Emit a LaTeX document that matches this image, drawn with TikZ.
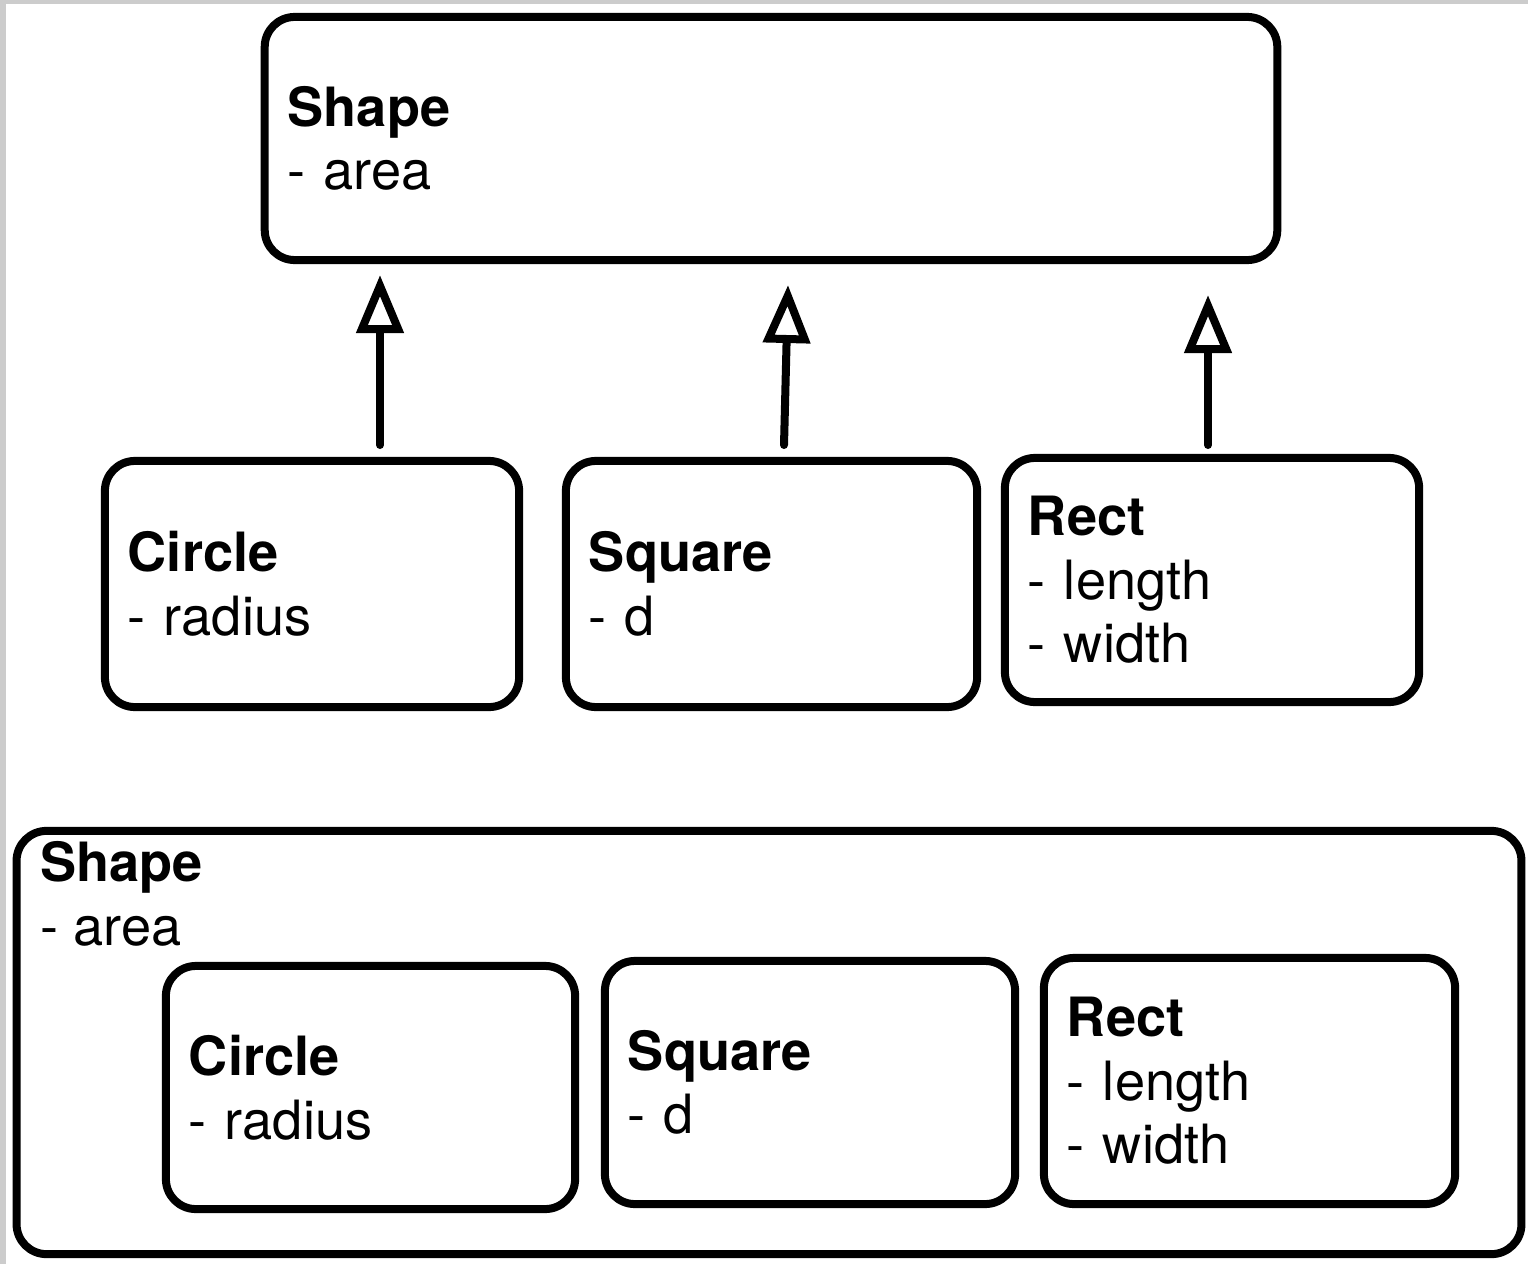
\documentclass[tikz,border=0pt]{standalone}
\usepackage{fontspec}
\setmainfont{TeX Gyre Heros}
\usetikzlibrary{arrows.meta,positioning}
\definecolor{strip}{RGB}{204,204,204}

\begin{document}
\begin{tikzpicture}[x=0.01cm,y=-0.01cm,line cap=round]
\tikzstyle{box}=[draw=black,line width=0.08cm,rounded corners=0.3cm,align=left,inner xsep=0.23cm,inner ysep=0pt,outer sep=0pt,font=\fontsize{15.4}{18.1}\selectfont]
\tikzstyle{inherit}=[line width=0.08cm,-{Triangle[open,length=0.58cm,width=0.46cm]}]
\fill[strip] (0,0) rectangle (1528,1264);
\fill[white] (6,4) rectangle (1528,1264);
\useasboundingbox (0,0) rectangle (1528,1264);
% inheritance
\node[box,text width=9.66cm,minimum height=2.43cm] (shape) at (771,138.5) {\textbf{Shape}\\- area};
\node[box,text width=3.68cm,minimum height=2.46cm] (circ) at (312,584) {\textbf{Circle}\\- radius};
\node[box,text width=3.65cm,minimum height=2.46cm] (squ) at (771.5,584) {\textbf{Square}\\- d};
\node[box,text width=3.68cm,minimum height=2.44cm] (rect) at (1212,580) {\textbf{Rect}\\- length\\- width};
\coordinate (c1) at (380,445);
\coordinate (c2) at (784,445);
\coordinate (c3) at (1208,445);
\coordinate (h1) at (380,275);
\coordinate (h2) at (788,285);
\coordinate (h3) at (1208,295);
\foreach \a/\b in {c1/h1,c2/h2,c3/h3}
	\draw[inherit] (\a) to (\b);
% composition
\node[box,minimum width=15.04cm,minimum height=4.23cm] (outer) at (769,1042.5) {};
\node[align=left,anchor=north west,inner xsep=0.23cm,inner ysep=0.1cm,font=\fontsize{15.4}{18.1}\selectfont] (outertxt) at (outer.north west) {\textbf{Shape}\\- area};
\node[box,text width=3.63cm,minimum height=2.43cm] (icirc) at (370.5,1087.5) {\textbf{Circle}\\- radius};
\node[box,text width=3.64cm,minimum height=2.43cm] (isqu) at (810,1082.5) {\textbf{Square}\\- d};
\node[box,text width=3.65cm,minimum height=2.46cm] (irect) at (1249.5,1081) {\textbf{Rect}\\- length\\- width};
\end{tikzpicture}
\end{document}
